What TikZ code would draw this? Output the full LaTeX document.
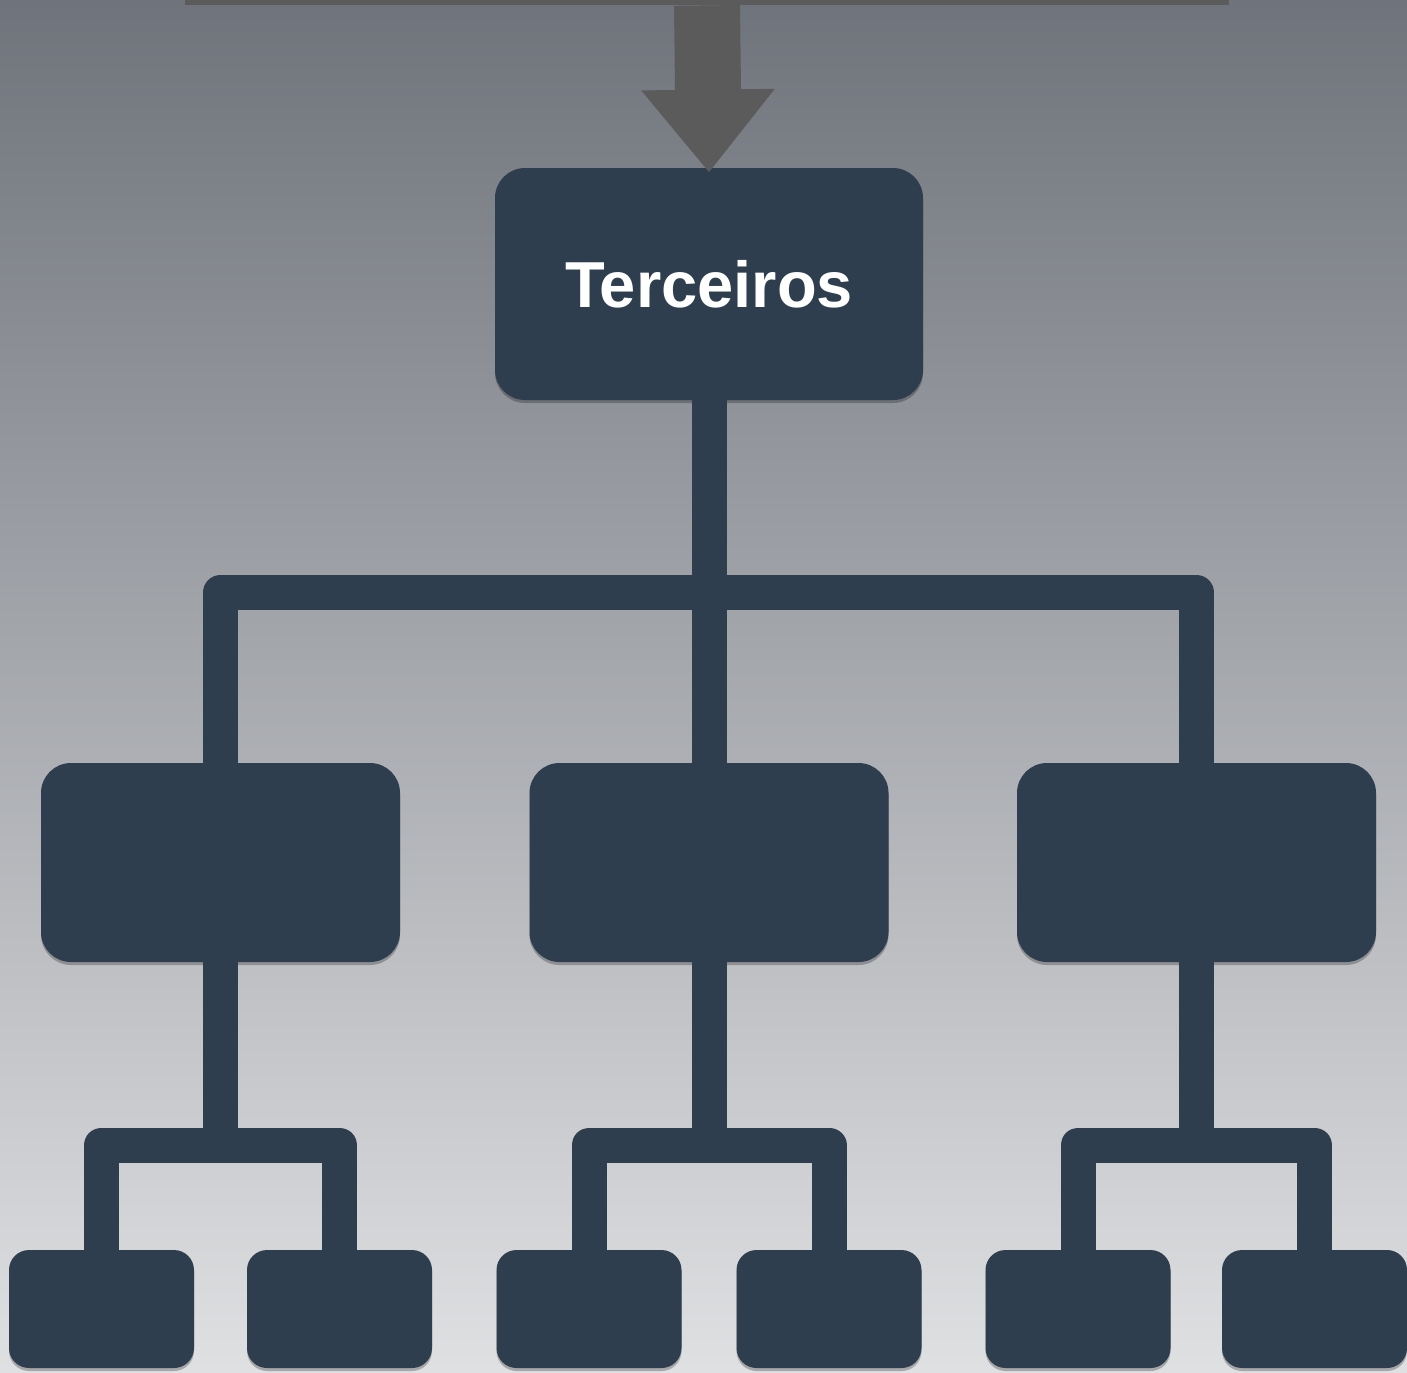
\documentclass[tikz,border=0pt]{standalone}
\usepackage{fontspec}
\setmainfont{Liberation Sans}
\usetikzlibrary{arrows.meta,shadows}
\definecolor{bgtop}{RGB}{111,115,123}
\definecolor{bgbot}{RGB}{223,224,226}
\definecolor{slate}{RGB}{47,62,78}
\definecolor{arrowgray}{RGB}{91,91,91}
\tikzset{
  box/.style={draw=none, fill=slate, rectangle, inner sep=0pt, text=white,
    drop shadow={shadow xshift=0pt, shadow yshift=-1.5pt, opacity=0.25, fill=black}},
  bigbox/.style={box, rounded corners=15pt, minimum width=179.5pt, minimum height=99.5pt},
  smallbox/.style={box, rounded corners=10pt, minimum width=92.5pt, minimum height=59pt},
  conn/.style={draw=slate, line width=17.5pt, line join=round, line cap=butt},
}
\begin{document}
\begin{tikzpicture}[x=0.5pt,y=-0.5pt]
  % background
  \shade[top color=bgtop, bottom color=bgbot] (0,0) rectangle (1407,1372);
  \useasboundingbox (0,0) rectangle (1407,1372);
  % top bar
  \node[fill=arrowgray, inner sep=0pt, minimum width=522pt, minimum height=2.5pt] (topbar) at (707,2.5) {};
  % main box
  \node[box, rounded corners=15pt, minimum width=214pt, minimum height=116pt,
        font=\bfseries\fontsize{32.5}{39}\selectfont] (top) at (709,284) {Terceiros};
  % middle boxes
  \node[bigbox] (m1) at (220.5,862.5) {};
  \node[bigbox] (m2) at (709,862.5) {};
  \node[bigbox] (m3) at (1196.5,862.5) {};
  % bottom boxes
  \node[smallbox] (b1) at (101.5,1309) {};
  \node[smallbox] (b2) at (339.5,1309) {};
  \node[smallbox] (b3) at (589,1309) {};
  \node[smallbox] (b4) at (829,1309) {};
  \node[smallbox] (b5) at (1078,1309) {};
  \node[smallbox] (b6) at (1314.5,1309) {};
  % bar levels
  \coordinate (bar) at (0,592.5);
  \coordinate (sb) at (0,1145);
  % arrow
  \draw[draw=arrowgray, line width=33pt, -{Triangle[width=64pt,length=41.5pt]}]
    (topbar.south) -- ([yshift=-2.5pt]top.north);
  % connectors
  \draw[conn] (top.south) -- (m2.north);
  \draw[conn] (m1.north) |- (m3.north |- bar) -- (m3.north);
  \draw[conn] (m1.south) -- (m1.south |- sb);
  \draw[conn] (m2.south) -- (m2.south |- sb);
  \draw[conn] (m3.south) -- (m3.south |- sb);
  \draw[conn] (b1.north) |- (b2.north |- sb) -- (b2.north);
  \draw[conn] (b3.north) |- (b4.north |- sb) -- (b4.north);
  \draw[conn] (b5.north) |- (b6.north |- sb) -- (b6.north);
\end{tikzpicture}
\end{document}
